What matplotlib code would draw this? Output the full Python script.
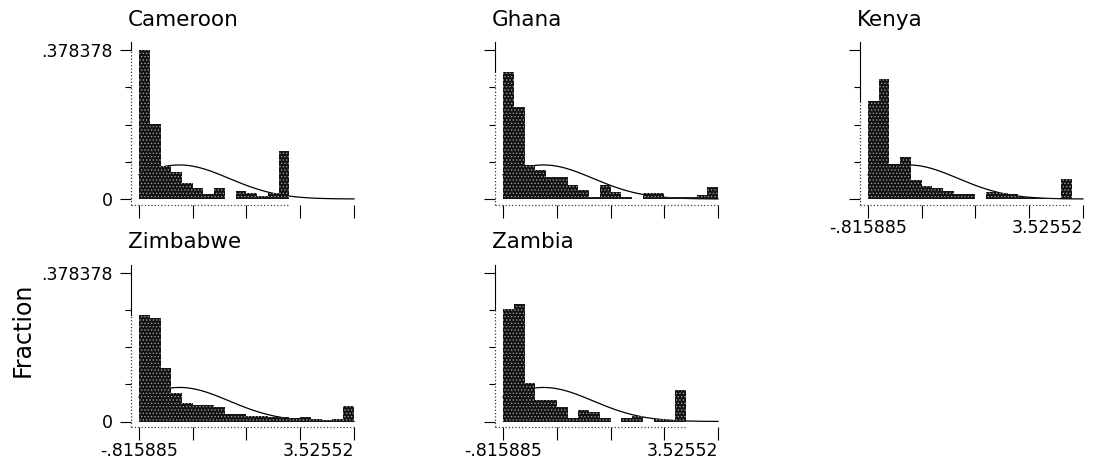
import numpy as np
import matplotlib.pyplot as plt

plt.rcParams['font.family'] = ['DejaVu Sans']
plt.rcParams['hatch.linewidth'] = 0.5

# x range shared by all panels, 20 bins across it
X_MIN, X_MAX = -0.815885, 3.52552
Y_MAX = 0.378378
N_BINS = 20

countries = ["Cameroon", "Ghana", "Kenya", "Zimbabwe", "Zambia"]

# fraction per bin (bins start at X_MIN)
cameroon = [0.378, 0.191, 0.083, 0.069, 0.041, 0.028, 0.013, 0.028, 0.0, 0.020,
            0.014, 0.007, 0.015, 0.123]
ghana = [0.322, 0.233, 0.086, 0.073, 0.056, 0.056, 0.035, 0.023, 0.006, 0.035,
         0.017, 0.006, 0.0, 0.014, 0.014, 0.006, 0.006, 0.006, 0.010, 0.031]
kenya = [0.249, 0.306, 0.089, 0.106, 0.048, 0.033, 0.027, 0.021, 0.013, 0.013,
         0.0, 0.019, 0.014, 0.013, 0.006, 0.003, 0.002, 0.002, 0.050]
zimbabwe = [0.270, 0.264, 0.136, 0.072, 0.048, 0.043, 0.043, 0.038, 0.020, 0.020,
            0.015, 0.014, 0.011, 0.011, 0.009, 0.011, 0.007, 0.003, 0.007, 0.039]
zambia = [0.286, 0.300, 0.099, 0.055, 0.055, 0.036, 0.008, 0.028, 0.024, 0.010,
          0.0, 0.010, 0.015, 0.0, 0.006, 0.004, 0.081]
heights = [cameroon, ghana, kenya, zimbabwe, zambia]

# normal overlay parameters (standardised variable)
curve_mean = [0.0, 0.0, 0.0, 0.0, 0.0]
curve_sd = [1.0, 1.0, 1.0, 1.0, 1.0]

x_tick_labels = ["-.815885", "", "", "", "3.52552"]
y_tick_labels = ["0", ".378378"]

# layout (pixels)
W, H = 1095, 463
grid_pos = [(0, 0), (0, 1), (0, 2), (1, 0), (1, 1)]
col_left = [131, 495, 860]
row_top = [42, 264.5]
ax_w, ax_h = 225, 162.5
show_xlab = [False, False, True, True, True]

fig = plt.figure(figsize=(W / 100, H / 100), dpi=100)

bw = (X_MAX - X_MIN) / N_BINS
ux = (X_MAX - X_MIN) / 215.0
uy = Y_MAX / 148.8
xlim = (X_MIN - 8 * ux, X_MAX + 2 * ux)
ylim = (-5.5 * uy, Y_MAX + 8.2 * uy)
xticks = np.linspace(X_MIN, X_MAX, 5)
yticks = np.linspace(0, Y_MAX, 5)

for i, name in enumerate(countries):
    r, c = grid_pos[i]
    left, top = col_left[c], row_top[r]
    ax = fig.add_axes([left / W, 1 - (top + ax_h) / H, ax_w / W, ax_h / H])
    ax.set_xlim(*xlim)
    ax.set_ylim(*ylim)

    h = heights[i]
    edges = X_MIN + bw * np.arange(len(h))
    ax.bar(edges, h, width=bw, align='edge', color='#141414', edgecolor='#a8a8a8',
           linewidth=0, hatch='.....', zorder=2)

    xs = np.linspace(X_MIN, X_MAX, 300)
    m, s = curve_mean[i], curve_sd[i]
    ys = bw * np.exp(-0.5 * ((xs - m) / s) ** 2) / (s * np.sqrt(2 * np.pi))
    ax.plot(xs, ys, color='black', lw=0.9, zorder=1)

    for sp in ax.spines.values():
        sp.set_visible(False)
    # axis lines: solid above the first bar, dotted next to the bars
    ax.plot([xlim[0], xlim[0]], [h[0], ylim[1]], color='black', lw=0.8,
            clip_on=False, zorder=3)
    ax.plot([xlim[0], xlim[0]], [ylim[0], h[0]], color='#333333', lw=0.9,
            ls=':', clip_on=False, zorder=3)
    ax.plot([xlim[0], edges[-1] + bw], [ylim[0], ylim[0]], color='#444444',
            lw=0.9, ls=':', clip_on=False, zorder=3)

    ax.set_xticks(xticks)
    ax.set_yticks([0, Y_MAX])
    ax.set_yticks(yticks[1:4], minor=True)
    ax.tick_params(axis='x', direction='out', length=9, width=0.8, pad=1.5,
                   labelsize=12.5)
    ax.tick_params(axis='y', which='major', direction='out', length=8, width=0.8,
                   pad=5, labelsize=12.5)
    ax.tick_params(axis='y', which='minor', direction='out', length=4, width=0.8)

    if show_xlab[i]:
        ax.set_xticklabels(x_tick_labels)
        ax.get_xticklabels()[-1].set_ha('right')
    else:
        ax.set_xticklabels([])
    if c == 0:
        ax.set_yticklabels(y_tick_labels)
    else:
        ax.set_yticklabels([])

    ax.annotate(name, xy=(0, 1), xycoords='axes fraction', xytext=(-3, 16),
                textcoords='offset pixels', ha='left', va='baseline',
                fontsize=15.5)

fig.text(23 / W, 1 - 330 / H, "Fraction", rotation=90, ha='center',
         va='center', fontsize=17)

fig.savefig("out.png", dpi=100)
